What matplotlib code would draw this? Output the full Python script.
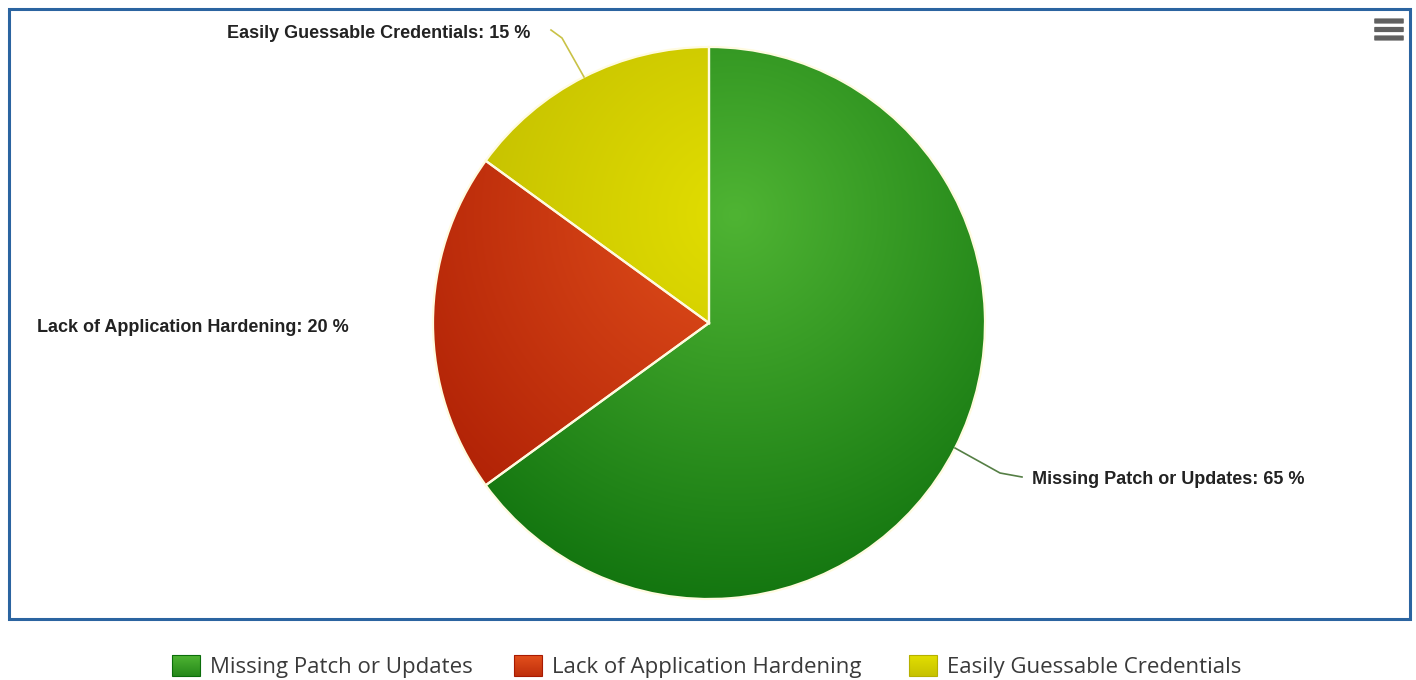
import numpy as np
import matplotlib.pyplot as plt
from matplotlib.patches import Rectangle, FancyBboxPatch

# datos del grafico
labels = ['Missing Patch or Updates', 'Lack of Application Hardening', 'Easily Guessable Credentials']
values = [65, 20, 15]
light = ['#4fb433', '#e3501c', '#e2de00']   # color en el centro del degradado
dark = ['#0b6d0b', '#a81a02', '#b5b000']    # color en el borde

W, H = 1416, 680
fig = plt.figure(figsize=(W / 100, H / 100), dpi=100)
ax = fig.add_axes([0, 0, 1, 1])

cx, cy, R = 709, H - 323, 276
wedges, _ = ax.pie(values, colors=light, startangle=90, counterclock=False,
                   center=(cx, cy), radius=R,
                   wedgeprops=dict(edgecolor='#fffbe0', linewidth=1.6))
ax.set_xlim(0, W)
ax.set_ylim(0, H)
ax.set_aspect('equal')
ax.axis('off')

# degradado radial comun (centro un poco arriba a la derecha)
gx, gy, gr = 735, H - 215, 440
xx, yy = np.meshgrid(np.arange(W) + 0.5, np.arange(H) + 0.5)
t = np.clip(np.hypot(xx - gx, yy - gy) / gr, 0, 1)[..., None]

def rgb(c):
    c = c.lstrip('#')
    return np.array([int(c[i:i + 2], 16) / 255 for i in (0, 2, 4)])

for w, l, d in zip(wedges, light, dark):
    img = rgb(l) * (1 - t) + rgb(d) * t
    im = ax.imshow(img, extent=(0, W, 0, H), origin='lower', zorder=1.5, interpolation='bilinear')
    im.set_clip_path(w)
    w.set_zorder(1.6)
    w.set_facecolor('none')

# etiquetas con conectores
lab_font = dict(fontsize=13, fontweight='bold', family='Liberation Sans', color='#222222', va='center')
ax.plot([955, 1000, 1022], [H - 448, H - 473, H - 477], color='#557f45', lw=1.2, zorder=3)
ax.text(1032, H - 480, f'{labels[0]}: {values[0]} %', ha='left', **lab_font)
ax.text(349, H - 328, f'{labels[1]}: {values[1]} %', ha='right', **lab_font)
ax.plot([584, 562, 551], [H - 77, H - 38, H - 30], color='#c9c247', lw=1.2, zorder=3)
ax.text(530, H - 34, f'{labels[2]}: {values[2]} %', ha='right', **lab_font)

# marco azul
ax.add_patch(Rectangle((9, H - 619), 1401, 610, fill=False, edgecolor='#2b64a0', lw=2.2, zorder=4))

# icono de menu
for yb in [21, 29.5, 38]:
    ax.add_patch(FancyBboxPatch((1375, H - yb - 1.8), 28, 3.6, boxstyle='round,pad=0.8',
                                facecolor='#606060', edgecolor='none', zorder=5))

# leyenda
box_x = [172, 514, 909]
tv = np.linspace(0, 1, 20)[:, None, None]
for x0, l, d, name in zip(box_x, light, dark, labels):
    box = Rectangle((x0, H - 676), 28, 21, facecolor='none', edgecolor=d, lw=0.8, zorder=4.1)
    ax.add_patch(box)
    img = rgb(d) * (1 - tv) * 0.6 + rgb(l) * (0.4 + 0.6 * tv)
    img = np.repeat(img, 4, axis=1)
    im = ax.imshow(img, extent=(x0, x0 + 28, H - 676, H - 655), origin='lower', zorder=4,
                   interpolation='bilinear')
    im.set_clip_path(box)
    ax.text(x0 + 38, H - 667, name, fontsize=16, family='Open Sans', color='#3a3a3a',
            ha='left', va='center')

ax.set_xlim(0, W)
ax.set_ylim(0, H)
fig.savefig('out.png', dpi=100)
